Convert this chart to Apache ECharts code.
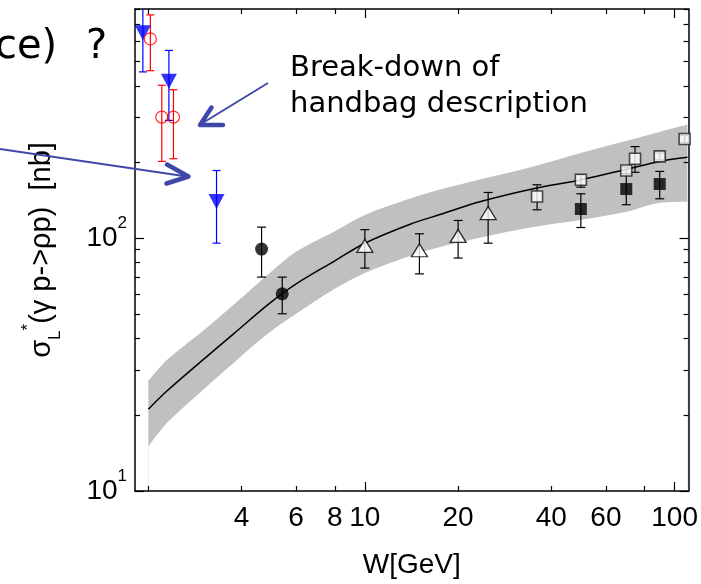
<!DOCTYPE html>
<html><head><meta charset="utf-8">
<script src="https://cdn.jsdelivr.net/npm/echarts@6/dist/echarts.min.js"></script>
<style>html,body{margin:0;padding:0;background:#fff}#c{width:701px;height:584px}</style>
</head><body><div id="c"></div>
<script>
// ---- data (W in GeV, sigma_L in nb) ----
const blueTriW  = [1.92, 2.33, 3.32];
const blueTriS  = [649, 417, 139.6];
const blueTriLo = [454, 292, 95.5];
const blueTriHi = [900, 552, 185];

const redCircW  = [2.03, 2.21, 2.41];
const redCircS  = [613, 301, 301];
const redCircLo = [459, 201, 206];
const redCircHi = [763, 402, 386];

const blackCircW  = [4.64, 5.41];
const blackCircS  = [90.5, 60.2];
const blackCircLo = [70.1, 50.2];
const blackCircHi = [110.5, 70.1];

const openTriW  = [10, 15.0, 20.0, 25.0];
const openTriS  = [93.2, 89.5, 102, 125.6];
const openTriLo = [76.1, 72.2, 83.4, 95.5];
const openTriHi = [108, 104, 117.4, 151.5];

const openSqW  = [35.96, 49.8, 69.8, 74.5, 89.5, 107.7];
const openSqS  = [146, 170, 185, 206, 210.5, 246.6];
const openSqLo = [129.4, 159, 179, 182, 204, 238];
const openSqHi = [162.5, 178, 191, 230, 217, 255];

const blackSqW  = [49.8, 69.8, 89.5];
const blackSqS  = [130.3, 156.3, 163.6];
const blackSqLo = [110.1, 135.5, 143];
const blackSqHi = [149.7, 180, 183.5];

const curveW  = [2, 2.3, 3, 3.8, 4.9, 6, 8, 10, 14, 18, 23.5, 35, 50, 70, 90, 110];
const curveS  = [21.05, 24.9, 33.0, 42.2, 54.95, 65.9, 81.3, 95.4, 113.4, 125.3, 139.2, 156.7, 170.1, 187.2, 201.4, 208.8];
const bandTop = [27.2, 33.0, 42.9, 55.0, 72.3, 88.3, 106.5, 123.5, 143.5, 157.0, 170.5, 192.0, 217.5, 242.7, 263.5, 281.0];
const bandBot = [14.97, 18.6, 25.1, 32.4, 42.2, 50.2, 63.0, 72.8, 85.0, 93.0, 100.3, 110.5, 118.1, 127.1, 137.9, 139.2];

const xTickLabels = [4, 6, 8, 10, 20, 40, 60, 100];
const xMajorTicks = [10, 100];
const xMinorTicks = [2, 4, 6, 8, 20, 40, 60, 80];
const yTickLabels = [10, 100];
const yMajorTicks = [10, 100];
const yMinorTicks = [20, 30, 40, 50, 60, 70, 80, 90, 200, 300, 400, 500, 600, 700, 800];
const xRange = [1.811, 110.9];
const yRange = [10, 805];

// ---- chart ----
const lg = Math.log10;
const FONT = 'Liberation Sans';
const chart = echarts.init(document.getElementById('c'), null, {renderer: 'canvas'});

function baseX(pos, ticks, len, showLine, label) {
  return {
    type: 'value', position: pos, min: lg(xRange[0]), max: lg(xRange[1]), z: 5,
    axisLine: {show: showLine, onZero: false, lineStyle: {color: '#000', width: 1.5}},
    axisTick: {show: true, inside: true, length: len, customValues: ticks.map(lg), lineStyle: {color: '#000', width: 1.2}},
    axisLabel: label || {show: false},
    splitLine: {show: false}
  };
}
function baseY(pos, ticks, len, showLine, label) {
  return {
    type: 'value', position: pos, min: lg(yRange[0]), max: lg(yRange[1]), z: 5,
    axisLine: {show: showLine, onZero: false, lineStyle: {color: '#000', width: 1.5}},
    axisTick: {show: true, inside: true, length: len, customValues: ticks.map(lg), lineStyle: {color: '#000', width: 1.2}},
    axisLabel: label || {show: false},
    splitLine: {show: false}
  };
}

const x0 = baseX('bottom', xMajorTicks, 9, true, {
  show: true, customValues: xTickLabels.map(lg), margin: 13,
  formatter: v => String(Math.round(Math.pow(10, v))),
  color: '#000', fontSize: 28, fontFamily: FONT
});
x0.name = 'W[GeV]'; x0.nameLocation = 'middle'; x0.nameGap = 60;
x0.nameTextStyle = {color: '#000', fontSize: 28, fontFamily: FONT};

const y0 = baseY('left', yMajorTicks, 9, true, {
  show: true, customValues: yTickLabels.map(lg), margin: 8,
  formatter: v => '{b|10}{s|' + Math.round(v) + '}',
  rich: {
    b: {fontSize: 28, fontFamily: FONT, color: '#000', lineHeight: 46},
    s: {fontSize: 17, fontFamily: FONT, color: '#000', lineHeight: 17, verticalAlign: 'top'}
  }
});
y0.name = '{a|σ}{sub|L}{sup|*}{a|(γ p->ρp)  [nb]}';
y0.nameLocation = 'middle'; y0.nameRotate = 90; y0.nameGap = 71;
y0.nameTextStyle = {
  color: '#000', fontFamily: FONT,
  rich: {
    a: {fontSize: 29, fontFamily: FONT, color: '#000', lineHeight: 44},
    sub: {fontSize: 17, fontFamily: FONT, color: '#000', lineHeight: 17, verticalAlign: 'bottom'},
    sup: {fontSize: 17, fontFamily: FONT, color: '#000', lineHeight: 17, verticalAlign: 'top'}
  }
};

const xAxes = [x0, baseX('top', xMajorTicks, 9, true), baseX('top', xMinorTicks, 5, false), baseX('bottom', xMinorTicks, 5, false)];
const yAxes = [y0, baseY('right', yMajorTicks, 9, true), baseY('right', yMinorTicks, 5, false), baseY('left', yMinorTicks, 5, false)];

function errSeries(W, lo, hi, color, cap) {
  return {
    type: 'custom', clip: true, z: 6, xAxisIndex: 0, yAxisIndex: 0,
    data: W.map((w, i) => [lg(w), lg(lo[i]), lg(hi[i])]),
    encode: {x: 0, y: [1, 2]},
    renderItem: (p, api) => {
      const x = api.value(0);
      const a = api.coord([x, api.value(1)]);
      const b = api.coord([x, api.value(2)]);
      const h = cap / 2;
      const st = {stroke: color, lineWidth: 1.2};
      return {type: 'group', children: [
        {type: 'line', shape: {x1: a[0], y1: a[1], x2: b[0], y2: b[1]}, style: st},
        {type: 'line', shape: {x1: a[0] - h, y1: a[1], x2: a[0] + h, y2: a[1]}, style: st},
        {type: 'line', shape: {x1: b[0] - h, y1: b[1], x2: b[0] + h, y2: b[1]}, style: st}
      ]};
    }
  };
}
function pts(W, S) { return W.map((w, i) => [lg(w), lg(S[i])]); }

const series = [
  // upper edge of the band, filled down to the axis
  {
    type: 'line', z: 1, silent: true, symbol: 'none', smooth: 0.35, clip: true,
    data: pts(curveW, bandTop), lineStyle: {width: 0, opacity: 0},
    areaStyle: {color: '#c0c0c0', opacity: 1, origin: 'start'}
  },
  // lower edge of the band, white below it
  {
    type: 'line', z: 2, silent: true, symbol: 'none', smooth: 0.35, clip: true,
    data: pts(curveW, bandBot), lineStyle: {width: 0, opacity: 0},
    areaStyle: {color: '#ffffff', opacity: 1, origin: 'start'}
  },
  {
    type: 'line', z: 6, data: pts(curveW, curveS), smooth: 0.35, symbol: 'none', clip: true,
    lineStyle: {color: '#000', width: 1.5}
  },
  errSeries(blueTriW, blueTriLo, blueTriHi, '#0000ff', 8),
  errSeries(redCircW, redCircLo, redCircHi, '#ff0000', 8),
  errSeries(blackCircW, blackCircLo, blackCircHi, '#000', 9),
  errSeries(openTriW, openTriLo, openTriHi, '#000', 9),
  errSeries(openSqW, openSqLo, openSqHi, '#000', 9),
  errSeries(blackSqW, blackSqLo, blackSqHi, '#000', 9),
  {type: 'scatter', z: 7, data: pts(blueTriW, blueTriS), symbol: 'triangle', symbolRotate: 180, symbolSize: [16, 15],
   itemStyle: {color: '#0000ff'}},
  {type: 'scatter', z: 7, data: pts(redCircW, redCircS), symbol: 'circle', symbolSize: 12,
   itemStyle: {color: 'rgba(255,255,255,0)', borderColor: '#ff0000', borderWidth: 1.2}},
  {type: 'scatter', z: 7, data: pts(blackCircW, blackCircS), symbol: 'circle', symbolSize: 13,
   itemStyle: {color: '#000'}},
  {type: 'scatter', z: 7, data: pts(openTriW, openTriS), symbol: 'triangle', symbolSize: [16, 13],
   itemStyle: {color: '#fff', borderColor: '#000', borderWidth: 1.3}},
  {type: 'scatter', z: 7, data: pts(openSqW, openSqS), symbol: 'rect', symbolSize: 11,
   itemStyle: {color: '#fff', borderColor: '#222', borderWidth: 1.6}},
  {type: 'scatter', z: 7, data: pts(blackSqW, blackSqS), symbol: 'rect', symbolSize: 12,
   itemStyle: {color: '#000'}}
];

const ARROW = '#3f48a8';
const ANN_FONT = 'DejaVu Sans';
const graphic = [
  {type: 'text', left: 290, top: 54, z: 100, style: {text: 'Break-down of', font: '29px "' + ANN_FONT + '"', fill: '#000'}},
  {type: 'text', left: 290, top: 90, z: 100, style: {text: 'handbag description', font: '29px "' + ANN_FONT + '"', fill: '#000'}},
  {type: 'text', left: -5, top: 28, z: 100, style: {text: 'ce)', font: '40px "' + ANN_FONT + '"', fill: '#000'}},
  {type: 'text', left: 86, top: 28, z: 100, style: {text: '?', font: '40px "' + ANN_FONT + '"', fill: '#000'}},
  {type: 'line', z: 100, shape: {x1: 268, y1: 83, x2: 201, y2: 124}, style: {stroke: ARROW, lineWidth: 2}},
  {type: 'polyline', z: 100, shape: {points: [[211.5, 107.5], [200, 125], [223, 125]]}, style: {stroke: ARROW, lineWidth: 4.5, lineCap: 'round', lineJoin: 'round', fill: null}},
  {type: 'line', z: 100, shape: {x1: 0, y1: 149, x2: 187, y2: 176.5}, style: {stroke: ARROW, lineWidth: 2}},
  {type: 'polyline', z: 100, shape: {points: [[167, 164.5], [188.5, 176.5], [166.5, 183.5]]}, style: {stroke: ARROW, lineWidth: 4.5, lineCap: 'round', lineJoin: 'round', fill: null}}
];

chart.setOption({
  animation: false,
  backgroundColor: '#fff',
  grid: {left: 135, right: 12, top: 9, bottom: 93, containLabel: false},
  xAxis: xAxes,
  yAxis: yAxes,
  series: series,
  graphic: graphic
});
</script>
</body></html>
